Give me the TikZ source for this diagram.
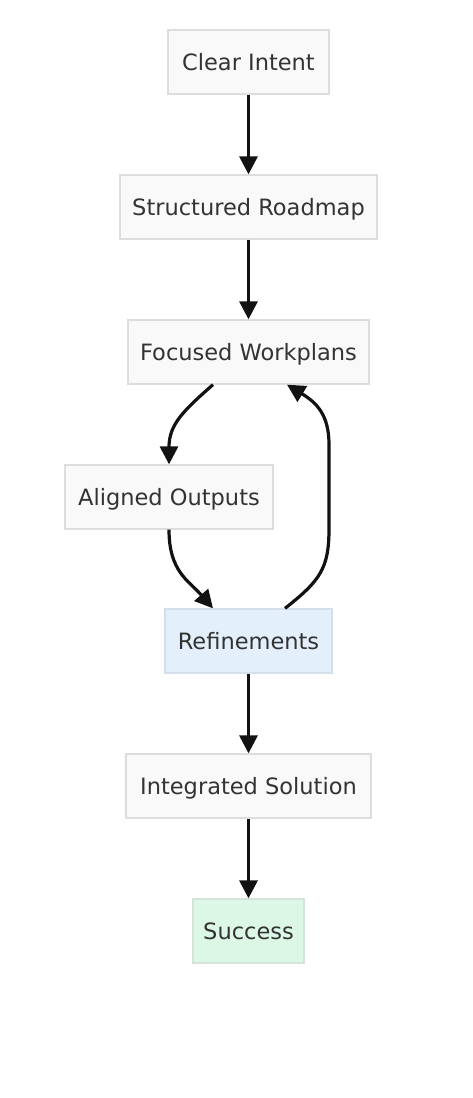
\documentclass[tikz,border=0pt]{standalone}
\usepackage{fontspec}
\setmainfont{DejaVu Sans}
\usetikzlibrary{arrows.meta,calc}
\definecolor{boxfill}{HTML}{F9F9F9}
\definecolor{boxline}{HTML}{DDDDDD}
\definecolor{bluefill}{HTML}{E3F0FC}
\definecolor{blueline}{HTML}{D3DFEA}
\definecolor{greenfill}{HTML}{DCF7E6}
\definecolor{greenline}{HTML}{D5E3DA}
\definecolor{txt}{HTML}{333333}
\tikzset{
  box/.style={draw=boxline, fill=boxfill, line width=1.3pt, inner sep=0pt,
    minimum height=64pt, text=txt, text height=16.4pt, text depth=0pt,
    font=\fontsize{22.5}{25}\selectfont},
  bluebox/.style={box, draw=blueline, fill=bluefill},
  greenbox/.style={box, draw=greenline, fill=greenfill},
  arr/.style={line width=3.2pt, draw=black!93, -{Triangle[length=18pt,width=18pt]}}
}
\begin{document}
\begin{tikzpicture}[x=1pt,y=-1pt]
\useasboundingbox (0,0) rectangle (472,1098);
\node[box, minimum width=161pt] (ci) at (248.5,62) {Clear Intent};
\node[box, minimum width=257pt] (sr) at (248.5,207) {Structured Roadmap};
\node[box, minimum width=241pt] (fw) at (248.5,352) {Focused Workplans};
\node[box, minimum width=208pt] (ao) at (169,497) {Aligned Outputs};
\node[bluebox, minimum width=167pt] (rf) at (248.5,641) {Refinements};
\node[box, minimum width=245pt] (is) at (248.5,786) {Integrated Solution};
\node[greenbox, minimum width=111pt] (su) at (248.5,931) {Success};

\draw[arr] (ci.south) -- (sr.north);
\draw[arr] (sr.south) -- (fw.north);
\draw[arr] ($(fw.south)+(-35.5,0)$) .. controls ($(fw.south)+(-65,26)$) and ($(ao.north)+(0,-40)$) .. (ao.north);
\draw[arr] (ao.south) .. controls ($(ao.south)+(0,42)$) and ($(rf.north)+(-60,-28)$) .. ($(rf.north)+(-35.5,0)$);
\draw[arr] ($(rf.north)+(36.5,0)$) .. controls ($(rf.north)+(72,-28)$) and ($(rf.north)+(80.5,-40)$) .. ($(rf.north)+(80.5,-80)$)
  -- ($(fw.south)+(80.5,60)$) .. controls ($(fw.south)+(80.5,30)$) and ($(fw.south)+(68,18)$) .. ($(fw.south)+(38.5,0)$);
\draw[arr] (rf.south) -- (is.north);
\draw[arr] (is.south) -- (su.north);
\end{tikzpicture}
\end{document}
